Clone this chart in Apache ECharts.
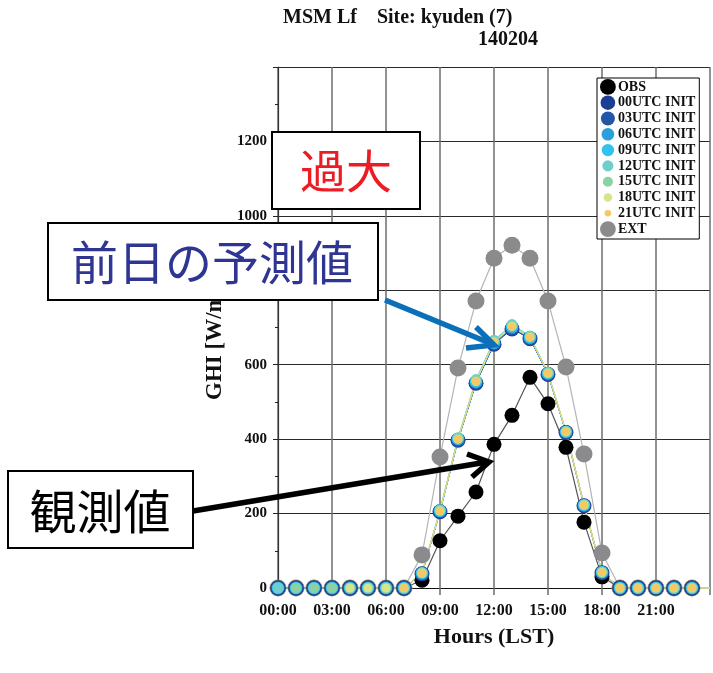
<!DOCTYPE html>
<html>
<head>
<meta charset="utf-8">
<script src="https://cdn.jsdelivr.net/npm/echarts@6/dist/echarts.min.js"></script>
<style>
  html, body { margin: 0; padding: 0; background: #fff; }
  #chart { width: 713px; height: 673px; }
</style>
</head>
<body>
<div id="chart"></div>
<script>
// Hour of day (LST); 24 closes the day at the right edge
const hours = [0,1,2,3,4,5,6,7,8,9,10,11,12,13,14,15,16,17,18,19,20,21,22,23,24];
const hourTicks = ['00:00','03:00','06:00','09:00','12:00','15:00','18:00','21:00'];

// Observed GHI [W/m2]
const obs = [0,0,0,0,0,0,0,0,21,127,193,258,386,464,566,495,378,177,30,0,0,0,0,0,0];
// Extraterrestrial irradiance
const ext = [0,0,0,0,0,0,0,0,89,352,591,771,886,921,886,771,594,360,94,0,0,0,0,0,0];

// MSM forecasts by initial time (null = before the first forecast hour)
const f00 = [0,0,0,0,0,0,0,0,38,205,397,550,655,696,670,574,418,221,41,0,0,0,0,0,0];
const f03 = [0,0,0,0,0,0,0,0,39,206,398,552,657,698,671,575,419,222,41,0,0,0,0,0,0];
const f06 = [0,0,0,0,0,0,0,0,39,207,400,553,658,700,672,576,419,222,42,0,0,0,0,0,0];
const f09 = [0,0,0,0,0,0,0,0,40,207,401,555,660,702,673,577,420,223,42,0,0,0,0,0,0];
const f12 = [0,0,0,0,0,0,0,0,41,210,404,560,666,708,677,579,421,224,43,0,0,0,0,0,0];
const f15 = [null,0,0,0,0,0,0,0,40,208,402,557,663,705,675,578,420,223,42,0,0,0,0,0,0];
const f18 = [null,null,null,null,0,0,0,0,40,207,400,555,661,703,674,577,420,223,42,0,0,0,0,0,0];
const f21 = [null,null,null,null,null,null,null,0,40,207,400,555,660,702,673,577,420,223,42,0,0,0,0,0,0];

const serif = 'Liberation Serif';
const cjk = 'Noto Sans CJK JP';

// Legend icon: a circle of radius r inside a fixed 16x16 box
function circleIcon(r) {
  const c = 8, top = c - r;
  return 'path://M0 0M16 16M' + c + ' ' + top +
    'a' + r + ' ' + r + ' 0 1 1 0 ' + (2 * r) +
    'a' + r + ' ' + r + ' 0 1 1 0 ' + (-2 * r) + 'z';
}

function points(vals) {
  const out = [];
  hours.forEach((h, i) => {
    if (vals[i] == null) return;
    if (h === 24) out.push({ value: [h, vals[i]], symbol: 'none' });
    else out.push([h, vals[i]]);
  });
  return out;
}

function lineSeries(name, vals, color, size, lineColor, lineWidth) {
  return {
    name: name,
    type: 'line',
    data: points(vals),
    symbol: 'circle',
    symbolSize: size,
    showAllSymbol: true,
    itemStyle: { color: color },
    lineStyle: { color: lineColor || color, width: lineWidth || 1 },
    emphasis: { disabled: true },
    clip: false
  };
}

const chart = echarts.init(document.getElementById('chart'));

const option = {
  animation: false,
  backgroundColor: '#fff',
  title: [
    {
      text: 'MSM Lf    Site: kyuden (7)',
      left: 283, top: 8, padding: 0,
      textStyle: { fontFamily: serif, fontWeight: 'bold', fontSize: 20, color: '#111' }
    },
    {
      text: '140204',
      right: 175, top: 30, padding: 0,
      textStyle: { fontFamily: serif, fontWeight: 'bold', fontSize: 20, color: '#111' }
    }
  ],
  grid: { left: 278, right: 0, top: 67, bottom: 85 },
  legend: {
    orient: 'vertical',
    left: 597, top: 78,
    padding: [1, 4, 2, 3],
    itemWidth: 16, itemHeight: 15.8, itemGap: 0,
    backgroundColor: '#fff',
    borderColor: '#000', borderWidth: 1,
    selectedMode: false,
    textStyle: { fontFamily: serif, fontWeight: 'bold', fontSize: 14, color: '#111', lineHeight: 15, padding: [0, 0, 0, -3] },
    data: [
      { name: 'OBS', icon: circleIcon(8.2) },
      { name: '00UTC INIT', icon: circleIcon(7.4) },
      { name: '03UTC INIT', icon: circleIcon(7.1) },
      { name: '06UTC INIT', icon: circleIcon(6.4) },
      { name: '09UTC INIT', icon: circleIcon(6.3) },
      { name: '12UTC INIT', icon: circleIcon(5.6) },
      { name: '15UTC INIT', icon: circleIcon(5.1) },
      { name: '18UTC INIT', icon: circleIcon(4.3) },
      { name: '21UTC INIT', icon: circleIcon(3.3) },
      { name: 'EXT', icon: circleIcon(8.2) }
    ]
  },
  xAxis: {
    type: 'value',
    min: 0, max: 24, interval: 3,
    name: 'Hours (LST)',
    nameLocation: 'middle',
    nameGap: 38,
    nameTextStyle: { fontFamily: serif, fontWeight: 'bold', fontSize: 22, color: '#111' },
    axisLine: { show: true, onZero: false, lineStyle: { color: '#111', width: 1 } },
    axisTick: { show: true, length: 7, lineStyle: { color: '#6e6e6e', width: 1.5 } },
    axisLabel: {
      margin: 15,
      fontFamily: serif, fontWeight: 'bold', fontSize: 16, color: '#111',
      formatter: v => hourTicks[v / 3] || ''
    },
    splitLine: { show: true, lineStyle: { color: '#6e6e6e', width: 1.5 } }
  },
  yAxis: {
    type: 'value',
    min: 0, max: 1400, interval: 200,
    axisLine: { show: true, lineStyle: { color: '#333', width: 1.2 } },
    axisTick: { show: true, length: 5, lineStyle: { color: '#222' } },
    minorTick: { show: true, splitNumber: 2, length: 3, lineStyle: { color: '#222' } },
    axisLabel: {
      margin: 11,
      fontFamily: serif, fontWeight: 'bold', fontSize: 15, color: '#111',
      formatter: v => (v >= 1400 ? '' : String(v))
    },
    splitLine: { show: true, lineStyle: { color: '#2a2a2a', width: 1 } }
  },
  series: [
    lineSeries('EXT', ext, '#8b8b8e', 17, '#b4b4b4', 1.2),
    lineSeries('OBS', obs, '#000000', 15, '#555555', 1.2),
    lineSeries('00UTC INIT', f00, '#1b3f94', 15),
    lineSeries('03UTC INIT', f03, '#2456a6', 14),
    lineSeries('06UTC INIT', f06, '#29a0dc', 12.5),
    lineSeries('09UTC INIT', f09, '#33c2f0', 12),
    lineSeries('12UTC INIT', f12, '#6fcfcf', 11),
    lineSeries('15UTC INIT', f15, '#88d2a3', 10),
    lineSeries('18UTC INIT', f18, '#d5e58b', 9),
    lineSeries('21UTC INIT', f21, '#f4c862', 8, '#e6dc78', 1)
  ],
  graphic: [
    // vertical axis title
    {
      type: 'text', x: 215, y: 400, rotation: Math.PI / 2, z: 50,
      style: { text: 'GHI [W/m²]', fontFamily: serif, fontWeight: 'bold', fontSize: 23, fill: '#111', textAlign: 'left', textVerticalAlign: 'middle' }
    },
    // "too large" callout
    {
      type: 'rect', z: 100,
      shape: { x: 272, y: 132, width: 148, height: 77 },
      style: { fill: '#fff', stroke: '#000', lineWidth: 2 }
    },
    {
      type: 'text', x: 346, y: 171, z: 101,
      style: { text: '過大', fontFamily: cjk, fontSize: 46, fill: '#ed1c24', textAlign: 'center', textVerticalAlign: 'middle' }
    },
    // forecast callout
    {
      type: 'rect', z: 100,
      shape: { x: 48, y: 223, width: 330, height: 77 },
      style: { fill: '#fff', stroke: '#000', lineWidth: 2 }
    },
    {
      type: 'text', x: 212, y: 262, z: 101,
      style: { text: '前日の予測値', fontFamily: cjk, fontSize: 47, fill: '#2e3592', textAlign: 'center', textVerticalAlign: 'middle' }
    },
    {
      type: 'polyline', z: 100,
      shape: { points: [[385, 300], [492, 344]] },
      style: { stroke: '#0b6fba', lineWidth: 5.5, fill: null }
    },
    {
      type: 'polyline', z: 100,
      shape: { points: [[476, 327], [494, 345], [466, 348]] },
      style: { stroke: '#0b6fba', lineWidth: 5.5, fill: null, lineJoin: 'miter' }
    },
    // observation callout
    {
      type: 'rect', z: 100,
      shape: { x: 8, y: 471, width: 185, height: 77 },
      style: { fill: '#fff', stroke: '#000', lineWidth: 2 }
    },
    {
      type: 'text', x: 100, y: 511, z: 101,
      style: { text: '観測値', fontFamily: cjk, fontSize: 47, fill: '#000', textAlign: 'center', textVerticalAlign: 'middle' }
    },
    {
      type: 'polyline', z: 100,
      shape: { points: [[193, 511], [487, 462]] },
      style: { stroke: '#000', lineWidth: 5.5, fill: null }
    },
    {
      type: 'polyline', z: 100,
      shape: { points: [[467, 454], [489, 462], [472, 477]] },
      style: { stroke: '#000', lineWidth: 5.5, fill: null, lineJoin: 'miter' }
    }
  ]
};

chart.setOption(option);
</script>
</body>
</html>
